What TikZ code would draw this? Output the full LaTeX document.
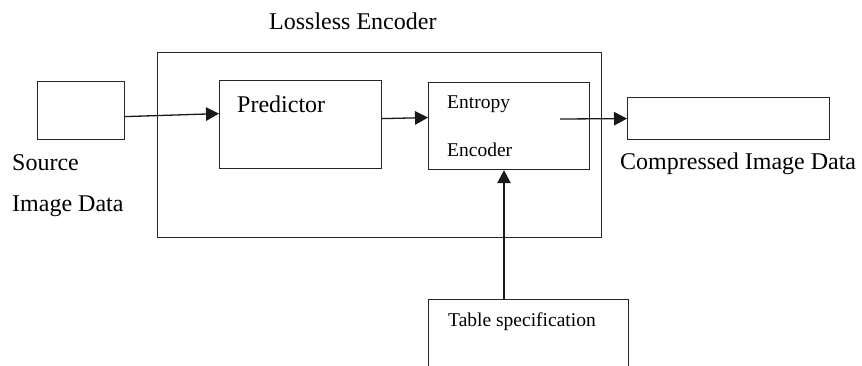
\documentclass[tikz,border=0pt]{standalone}
\usepackage{fontspec}
\setmainfont{Liberation Serif}
\usetikzlibrary{arrows.meta}
\begin{document}
\begin{tikzpicture}[x=1pt,y=-1pt,
  box/.style={draw=black!85, line width=1.2pt, rectangle, inner sep=0pt, anchor=north west},
  lbl/.style={inner sep=0pt, anchor=base west, font=\fontsize{24}{28}\selectfont},
  small/.style={inner sep=0pt, anchor=base west, font=\fontsize{19.5}{23}\selectfont},
  flow/.style={line width=1.3pt, draw=black!90, -{Triangle[length=13pt,width=13.5pt]}}]
\useasboundingbox (0,0) rectangle (862,365);
\clip (0,0) rectangle (862,365);

% blocks
\node[box, minimum width=87pt,  minimum height=58pt]  (src)   at (37,81)  {};
\node[box, minimum width=444pt, minimum height=185pt] (outer) at (157,52) {};
\node[box, minimum width=162pt, minimum height=88pt]  (pred)  at (219,80) {};
\node[box, minimum width=161pt, minimum height=87pt]  (ent)   at (428,82) {};
\node[box, minimum width=202pt, minimum height=42pt]  (comp)  at (627,97) {};
\node[box, minimum width=200pt, minimum height=100pt] (table) at (428,299) {};

% labels
\node[lbl]   (tEnc)  at (269,29)  {Lossless Encoder};
\node[lbl]   (tPred) at (237,112) {Predictor};
\node[small] (tEnt1) at (447,108) {Entropy};
\node[small] (tEnt2) at (447,156) {Encoder};
\node[lbl]   (tSrc1) at (12,170)  {Source};
\node[lbl]   (tSrc2) at (12,211)  {Image Data};
\node[lbl]   (tComp) at (620,169) {Compressed Image Data};
\node[small] (tTab)  at (448,326) {Table specification};

% connectors
\coordinate (entout) at (560,119);
\coordinate (tabout) at (504,299);
\draw[flow] ([yshift=-6pt]src.east) -- ([yshift=11pt]pred.west);
\draw[flow] ([yshift=6pt]pred.east) -- ([yshift=8.5pt]ent.west);
\draw[flow] (entout) -- (comp.west);
\draw[flow] (tabout) -- (tabout |- ent.south);
\end{tikzpicture}
\end{document}
